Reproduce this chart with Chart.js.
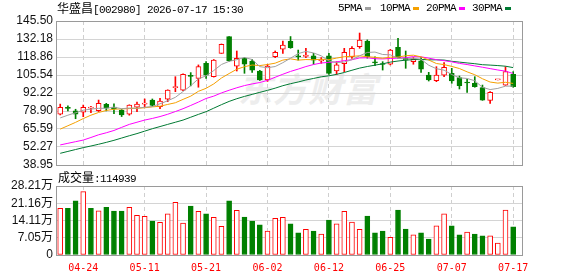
<!DOCTYPE html>
<html><head><meta charset="utf-8">
<script src="https://cdn.jsdelivr.net/npm/chart.js@4.4.1/dist/chart.umd.min.js"></script>
<style>
html,body{margin:0;padding:0;background:#fff;}
#wrap{position:relative;width:578px;height:276px;overflow:hidden;}
canvas{position:absolute;left:0;}
#c1{top:0;}
#c2{top:170px;}
.t{position:absolute;white-space:nowrap;line-height:12px;color:#000;}
.mono{font-family:'Liberation Mono',monospace;font-size:11px;letter-spacing:-0.6px;}
.cjk{font-family:'Noto Sans CJK SC',sans-serif;font-size:12px;}
.mk{position:absolute;width:6px;height:3px;top:7px;}
#wm{position:absolute;left:238px;top:66px;font:italic bold 34px 'Noto Sans CJK SC';color:#ededed;letter-spacing:1px;line-height:44px;}
</style></head>
<body>
<div id="wrap">
  <div id="wm">东方财富</div>
  <canvas id="c1" width="578" height="178"></canvas>
  <canvas id="c2" width="578" height="106"></canvas>
  <div class="t" style="left:57px;top:2px"><span class="cjk">华盛昌</span><span class="mono">[002980] 2026-07-17 15:30</span></div>
  <div class="t mono" style="left:338px;top:2px">5PMA</div><div class="mk" style="left:365px;background:#a0a0a0"></div>
  <div class="t mono" style="left:380px;top:2px">10PMA</div><div class="mk" style="left:413px;background:#f5a000"></div>
  <div class="t mono" style="left:426px;top:2px">20PMA</div><div class="mk" style="left:459px;background:#ff00ff"></div>
  <div class="t mono" style="left:472px;top:2px">30PMA</div><div class="mk" style="left:505px;background:#007a33"></div>
  <div class="t" style="left:58px;top:171px"><span class="cjk">成交量</span><span class="mono">:114939</span></div>
</div>
<script>
const dates = ['04-21','04-22','04-23','04-24','04-27','04-28','04-29','04-30','05-06','05-07','05-08','05-11','05-12','05-13','05-14','05-15','05-18','05-19','05-20','05-21','05-22','05-25','05-26','05-27','05-28','05-29','06-01','06-02','06-03','06-04','06-05','06-08','06-09','06-10','06-11','06-12','06-15','06-16','06-17','06-18','06-22','06-23','06-24','06-25','06-26','06-29','06-30','07-01','07-02','07-03','07-06','07-07','07-08','07-09','07-10','07-13','07-14','07-15','07-16','07-17'];
const labelIdx = [3,11,19,27,35,43,51,59];

const opens  = [76.5,81.2,79.1,78.0,81.0,79.2,83.9,81.8,79.6,76.5,81.7,84.0,87.0,82.2,87.6,96.2,94.4,105.3,103.1,114.2,104.3,121.6,133.9,112.0,117.9,115.9,108.5,101.9,119.1,124.6,130.5,119.3,119.2,119.8,116.0,119.8,108.5,114.0,119.1,126.5,130.7,115.0,113.7,113.5,126.0,117.9,115.4,116.1,105.5,101.3,105.5,106.8,103.6,99.8,99.4,96.2,86.8,101.9,98.1,106.0];
const highs  = [84.0,82.8,80.2,83.3,82.3,87.0,84.6,84.2,80.0,83.5,85.5,87.8,87.8,88.3,94.6,104.3,106.5,107.3,113.0,115.4,117.0,128.5,134.0,123.3,118.4,117.2,109.0,113.5,123.3,130.7,134.0,124.0,125.3,121.6,118.4,121.6,115.4,125.3,126.5,136.6,131.5,119.0,115.4,124.5,132.7,123.3,118.4,118.4,107.5,111.7,114.7,110.5,104.8,102.4,104.3,98.1,93.2,101.9,111.7,108.0];
const lows   = [76.0,79.0,73.2,74.7,77.6,78.5,79.0,77.0,74.8,75.8,78.4,82.0,82.2,80.6,85.8,93.2,94.0,97.5,96.5,103.1,104.0,121.5,115.5,108.5,106.8,107.5,101.5,100.8,118.4,121.6,125.3,116.6,118.4,113.5,114.2,106.0,106.0,108.0,117.9,125.3,118.0,112.4,109.2,113.0,117.9,110.5,113.5,107.5,101.1,100.6,104.3,99.4,95.2,92.7,96.5,86.8,84.6,101.9,97.8,96.5];
const closes = [81.6,80.8,76.5,81.6,81.0,84.5,81.0,80.6,76.0,83.3,84.0,84.6,83.0,86.3,94.4,96.9,106.0,104.5,111.7,105.5,116.6,128.3,116.1,117.9,113.5,109.2,101.9,112.2,122.3,127.7,125.8,118.9,120.3,116.6,117.0,106.8,113.0,122.3,125.3,131.4,119.1,114.5,113.3,124.0,118.4,116.6,117.2,109.8,101.9,105.5,111.2,101.1,97.6,99.6,96.9,87.0,92.7,101.9,108.0,97.0];
const vols   = [191000,191000,221000,259000,191000,181000,195000,180000,180000,195000,162000,158000,139000,134000,168000,215000,131000,200000,179000,168000,154000,117000,221000,183000,155000,139000,123000,98000,150000,154000,127000,91000,105000,98000,86000,143000,127000,179000,135000,105000,159000,91000,98000,72000,184000,106000,82000,91000,65000,119000,168000,119000,82000,94000,86000,78000,78000,49000,184000,114939];

const ma5  = [73.8,75.8,77.6,79.5,80.30,80.88,80.92,81.74,80.62,81.08,80.98,81.70,82.18,84.24,86.46,89.04,93.32,97.62,102.70,104.92,108.86,113.32,115.64,116.88,118.48,117.00,111.72,110.94,111.82,114.66,117.98,121.38,123.00,121.86,119.72,115.92,114.74,115.14,116.88,119.76,122.22,122.52,120.72,120.46,117.86,117.36,117.90,117.20,112.78,110.20,109.12,105.90,103.46,103.00,101.28,96.44,94.76,95.62,97.30,97.32];
const ma10 = [65.5,68.0,70.5,73.3,75.8,77.8,79.3,80.2,80.5,80.69,80.93,81.31,81.96,82.43,83.77,85.01,87.51,89.90,93.47,95.69,98.95,103.32,106.63,109.79,111.70,112.93,112.52,113.29,114.30,116.57,117.49,116.55,116.97,116.84,117.19,116.95,118.06,119.07,119.37,119.74,119.07,118.63,117.93,118.67,118.81,119.79,120.21,118.96,116.62,114.03,113.24,111.90,110.33,107.89,105.74,102.78,100.33,99.54,100.15,99.30];
const ma20 = [53.8,55.0,56.2,57.4,59.3,61.3,62.8,64.5,66.8,69.0,70.6,72.2,73.4,74.8,76.5,78.5,80.6,83.0,85.5,88.17,89.92,92.29,94.27,96.09,97.71,98.95,99.99,101.57,103.89,106.11,108.20,109.91,111.78,113.29,114.42,114.92,115.27,116.16,116.84,118.16,118.28,117.59,117.45,117.76,118.00,118.37,119.14,119.02,118.00,116.89,116.16,115.27,114.13,113.28,112.28,111.29,110.27,109.25,108.39,106.67];
const ma30 = [47.6,49.0,50.4,51.8,53.0,54.3,55.7,57.2,58.9,60.6,62.2,64.0,65.8,67.4,69.0,70.6,72.2,74.3,76.4,78.4,81.0,83.6,86.0,88.0,89.7,91.2,92.7,94.2,95.8,97.63,99.11,100.38,101.84,103.00,104.20,104.95,106.01,107.40,109.05,110.65,111.82,112.82,113.83,115.08,115.88,116.54,116.91,117.09,116.76,116.78,116.60,115.69,115.08,114.47,113.91,113.17,112.87,112.52,112.05,111.02];

const priceTicks = ['38.95','52.27','65.59','78.90','92.22','105.54','118.86','132.18','145.50'];
const volTicks = [0,70500,141100,211600,282100];
const volTickLabels = ['0','7.05万','14.11万','21.16万','28.21万'];

const RED = '#ff0000', GREEN = '#008000';
const up = i => closes[i] >= opens[i];
const volUp = i => i === 0 || closes[i] >= closes[i - 1];

Chart.defaults.font.family = "'Liberation Sans', Arial, sans-serif";
Chart.defaults.font.size = 12;

const frame = {
  id: 'frame',
  beforeDatasetsDraw(chart) {
    const {ctx, chartArea: a} = chart;
    ctx.save();
    ctx.strokeStyle = '#9a9a9a';
    ctx.lineWidth = 1;
    ctx.strokeRect(Math.round(a.left) + 0.5, Math.round(a.top) + 0.5, Math.round(a.right - a.left), Math.round(a.bottom - a.top));
    ctx.restore();
  }
};

const xBase = {
  type: 'linear', min: -0.55, max: 60.15, offset: false,
  grid: {offset: false, color: '#cfcfcf', drawTicks: false},
  border: {display: false, dash: [4, 3]},
  afterBuildTicks: s => { s.ticks = labelIdx.map(v => ({value: v})); }
};

const ds = (arr) => arr.map((v, i) => ({x: i, y: v}));
const line = (arr, color) => ({type: 'line', data: ds(arr), borderColor: color, borderWidth: 1, pointRadius: 0, tension: 0, order: -1});

new Chart(document.getElementById('c1'), {
  type: 'bar',
  data: {
    datasets: [
      line(ma5, '#a0a0a0'), line(ma10, '#f5a000'), line(ma20, '#ff00ff'), line(ma30, '#007a33'),
      {
        data: opens.map((o, i) => ({x: i, y: [o, closes[i]]})),
        barThickness: 5, grouped: false, borderWidth: 1, borderSkipped: false, minBarLength: 1,
        backgroundColor: c => up(c.dataIndex) ? '#ffffff' : GREEN,
        borderColor: c => up(c.dataIndex) ? RED : GREEN,
        order: 1
      },
      {
        data: lows.map((l, i) => ({x: i, y: [l, highs[i]]})),
        barThickness: 1, grouped: false, borderWidth: 0,
        backgroundColor: c => up(c.dataIndex) ? RED : GREEN,
        order: 2
      }
    ]
  },
  options: {
    responsive: false, animation: false, devicePixelRatio: 1,
    layout: {padding: {left: 0, right: 56, top: 21, bottom: 13}},
    plugins: {legend: {display: false}, tooltip: {enabled: false}},
    scales: {
      x: Object.assign({}, xBase, {ticks: {display: false}, afterFit: s => { s.height = 0; }}),
      y: {
        min: 38.95, max: 145.5,
        grid: {color: '#d4d4d4', drawTicks: false},
        border: {display: false},
        afterBuildTicks: s => { s.ticks = priceTicks.map(t => ({value: parseFloat(t)})); },
        afterFit: s => { s.width = 56; },
        ticks: {
          autoSkip: false, padding: 3, color: '#111', font: {size: 12},
          callback: v => priceTicks.find(t => Math.abs(parseFloat(t) - v) < 0.001)
        }
      }
    }
  },
  plugins: [frame]
});

new Chart(document.getElementById('c2'), {
  type: 'bar',
  data: {
    datasets: [{
      data: ds(vols),
      barThickness: 5, grouped: false, borderWidth: 1, borderSkipped: false,
      backgroundColor: c => volUp(c.dataIndex) ? '#ffffff' : GREEN,
      borderColor: c => volUp(c.dataIndex) ? RED : GREEN
    }]
  },
  options: {
    responsive: false, animation: false, devicePixelRatio: 1,
    layout: {padding: {left: 0, right: 56, top: 16, bottom: 0}},
    plugins: {legend: {display: false}, tooltip: {enabled: false}},
    scales: {
      x: Object.assign({}, xBase, {
        ticks: {display: true, autoSkip: false, maxRotation: 0, padding: 7, color: RED,
          font: {family: "'DejaVu Sans Mono', monospace", size: 10},
          callback: v => dates[v]},
        afterFit: s => { s.height = 21; }
      }),
      y: {
        min: 0, max: 282100,
        grid: {color: '#d4d4d4', drawTicks: false},
        border: {display: false},
        afterBuildTicks: s => { s.ticks = volTicks.map(v => ({value: v})); },
        afterFit: s => { s.width = 56; },
        ticks: {
          autoSkip: false, padding: 3, color: '#111', font: {family: "'Liberation Sans', 'Noto Sans CJK SC', sans-serif", size: 12},
          callback: v => volTickLabels[volTicks.indexOf(v)]
        }
      }
    }
  },
  plugins: [frame]
});
</script>
</body></html>
